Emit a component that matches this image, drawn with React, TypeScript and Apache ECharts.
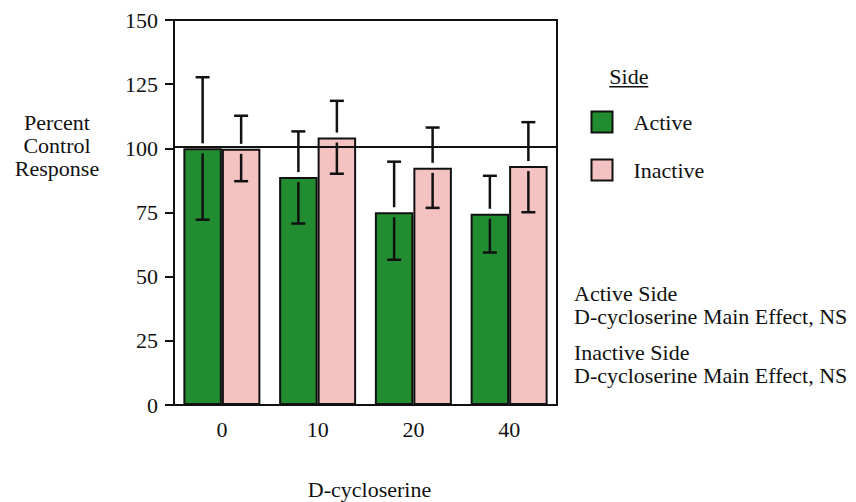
import React, { useEffect, useRef } from "react";
import * as echarts from "echarts";

const categories = ["0", "10", "20", "40"];
const seriesNames = ["Active", "Inactive"];
const activeMean = [100, 88.8, 75.1, 74.5];
const activeUpper = [127.7, 106.6, 94.8, 89.3];
const activeLower = [72.2, 70.7, 56.6, 59.4];
const inactiveMean = [99.8, 104.2, 92.4, 93.1];
const inactiveUpper = [112.7, 118.5, 108.1, 110.2];
const inactiveLower = [87.2, 90.1, 76.8, 75.1];
const referenceValue = 100.6;
const yTicks = { min: 0, max: 150, interval: 25 };
const yTitleLines = ["Percent", "Control", "Response"];
const xTitle = "D-cycloserine";
const legendTitle = "Side";
const notes = [
  "Active Side",
  "D-cycloserine Main Effect, NS",
  "Inactive Side",
  "D-cycloserine Main Effect, NS",
];

const FONT = "Liberation Serif";
const INK = "#111111";
const GREEN = "#228c30";
const PINK = "#f5c2c2";
const BAR_W = 38.5;

function errorSeries(name: string, mean: number[], lo: number[], hi: number[], offset: number, extra: any = {}) {
  return {
    type: "custom",
    name: name + " error",
    z: 5,
    silent: true,
    data: mean.map((m, i) => [i, lo[i], hi[i], m]),
    encode: { x: 0, y: [1, 2] },
    renderItem: (params: any, api: any) => {
      const i = api.value(0);
      const pLo = api.coord([i, api.value(1)]);
      const pHi = api.coord([i, api.value(2)]);
      const pTop = api.coord([i, api.value(3)]);
      const x = pLo[0] + offset;
      const gap = 5;
      const cap = 7;
      const style = { stroke: INK, lineWidth: 2.5 };
      return {
        type: "group",
        children: [
          { type: "line", shape: { x1: x, y1: pHi[1], x2: x, y2: pTop[1] - gap }, style },
          { type: "line", shape: { x1: x - cap, y1: pHi[1], x2: x + cap, y2: pHi[1] }, style },
          { type: "line", shape: { x1: x, y1: pTop[1] + gap, x2: x, y2: pLo[1] }, style },
          { type: "line", shape: { x1: x - cap, y1: pLo[1], x2: x + cap, y2: pLo[1] }, style },
        ],
      };
    },
    ...extra,
  };
}

export default function App() {
  const ref = useRef<HTMLDivElement>(null);
  useEffect(() => {
    if (!ref.current) return;
    const chart = echarts.init(ref.current, undefined, { renderer: "svg" });
    const textBase = { fontFamily: FONT, fontSize: 22, fill: INK, lineHeight: 21 };
    const option: any = {
      animation: false,
      backgroundColor: "#ffffff",
      textStyle: { fontFamily: FONT },
      grid: {
        left: 174,
        top: 20,
        width: 383,
        height: 385,
        show: true,
        borderColor: INK,
        borderWidth: 2,
        backgroundColor: "transparent",
      },
      legend: {
        orient: "vertical",
        left: 590.5,
        top: 110.5,
        padding: 0,
        itemWidth: 21,
        itemHeight: 21,
        itemGap: 25,
        icon: "rect",
        data: seriesNames,
        itemStyle: { borderColor: INK, borderWidth: 2 },
        textStyle: {
          fontFamily: FONT,
          fontSize: 22,
          color: INK,
          lineHeight: 21,
          padding: [0, 0, 0, 16],
        },
      },
      xAxis: {
        type: "category",
        data: categories,
        axisLine: { lineStyle: { color: INK, width: 2 } },
        axisTick: { alignWithLabel: true, length: 10, lineStyle: { color: INK, width: 2 } },
        axisLabel: { fontFamily: FONT, fontSize: 22, color: INK, margin: 13 },
        splitLine: { show: false },
      },
      yAxis: {
        type: "value",
        min: yTicks.min,
        max: yTicks.max,
        interval: yTicks.interval,
        axisLine: { show: true, lineStyle: { color: INK, width: 2 } },
        axisTick: { show: true, length: 9, lineStyle: { color: INK, width: 2 } },
        axisLabel: { fontFamily: FONT, fontSize: 22, color: INK, margin: 16 },
        splitLine: { show: false },
      },
      series: [
        {
          type: "bar",
          name: seriesNames[0],
          data: activeMean,
          barWidth: BAR_W,
          barGap: "0%",
          itemStyle: { color: GREEN, borderColor: INK, borderWidth: 2 },
          silent: true,
        },
        {
          type: "bar",
          name: seriesNames[1],
          data: inactiveMean,
          barWidth: BAR_W,
          barGap: "0%",
          itemStyle: { color: PINK, borderColor: INK, borderWidth: 2 },
          silent: true,
        },
        errorSeries(seriesNames[0], activeMean, activeLower, activeUpper, -BAR_W / 2, {
          markLine: {
            silent: true,
            symbol: ["none", "none"],
            label: { show: false },
            lineStyle: { color: INK, width: 2, type: "solid" },
            data: [{ yAxis: referenceValue }],
          },
        }),
        errorSeries(seriesNames[1], inactiveMean, inactiveLower, inactiveUpper, BAR_W / 2),
      ],
      graphic: [
        ...yTitleLines.map((t, i) => ({
          type: "text",
          x: 57,
          y: 122.7 + i * 22.7,
          style: { ...textBase, text: t, textAlign: "center", textVerticalAlign: "middle" },
        })),
        {
          type: "text",
          x: 369.5,
          y: 489.4,
          style: { ...textBase, text: xTitle, textAlign: "center", textVerticalAlign: "middle" },
        },
        {
          type: "text",
          x: 609.3,
          y: 76.7,
          style: { ...textBase, text: legendTitle, textAlign: "left", textVerticalAlign: "middle" },
        },
        {
          type: "line",
          shape: { x1: 609.3, y1: 86.7, x2: 648.3, y2: 86.7 },
          style: { stroke: INK, lineWidth: 1.5 },
        },
        ...notes.map((t, i) => ({
          type: "text",
          x: 574,
          y: [293.8, 316.5, 352.7, 375.4][i],
          style: { ...textBase, text: t, textAlign: "left", textVerticalAlign: "middle" },
        })),
      ],
    };
    chart.setOption(option);
    return () => chart.dispose();
  }, []);
  return (
    <div
      ref={ref}
      style={{ position: "fixed", left: 0, top: 0, width: 856, height: 502, background: "#fff" }}
    />
  );
}
